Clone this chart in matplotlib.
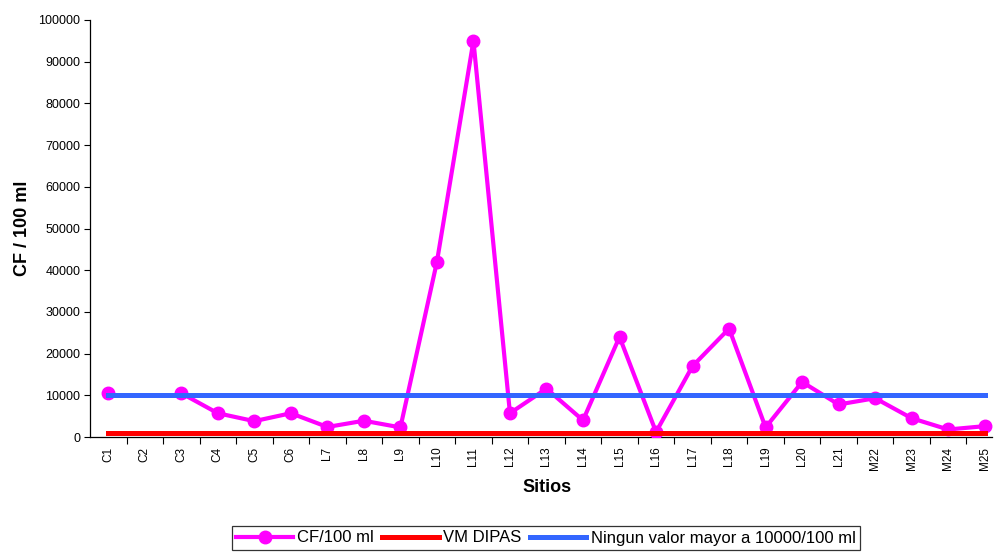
import numpy as np
import matplotlib
matplotlib.use('Agg')
import matplotlib.pyplot as plt
from matplotlib.ticker import FixedLocator, MultipleLocator

plt.rcParams['font.family'] = ['Liberation Sans', 'DejaVu Sans']

sitios = ['C1', 'C2', 'C3', 'C4', 'C5', 'C6', 'L7', 'L8', 'L9', 'L10', 'L11',
          'L12', 'L13', 'L14', 'L15', 'L16', 'L17', 'L18', 'L19', 'L20',
          'L21', 'M22', 'M23', 'M24', 'M25']
cf = [10500, np.nan, 10500, 5700, 3800, 5700, 2400, 3900, 2300, 42000, 95000,
      5700, 11600, 4000, 24000, 1200, 17000, 26000, 2300, 13200, 7800, 9300,
      4500, 1800, 2600]
vm_dipas = [1000] * len(sitios)
limite = [10000] * len(sitios)


def create_figure(outfile):
    fig_w, fig_h = 997, 552
    fig = plt.figure(figsize=(fig_w / 100, fig_h / 100), dpi=100)

    # plot area in pixels
    left, right, bottom, top = 90, 992, 437, 20
    ax = fig.add_axes([left / fig_w, (fig_h - bottom) / fig_h,
                       (right - left) / fig_w, (bottom - top) / fig_h])

    x = np.arange(len(sitios))
    ax.plot(x, cf, color='#FF00FF', lw=3.0, marker='o', ms=9,
            label='CF/100 ml', zorder=3)
    ax.plot(x, vm_dipas, color='#FF0000', lw=3.6, label='VM DIPAS', zorder=4)
    ax.plot(x, limite, color='#3366FF', lw=3.6,
            label='Ningun valor mayor a 10000/100 ml', zorder=5)

    ax.set_xlim(-0.5, 24.2)
    ax.set_ylim(0, 100000)
    ax.yaxis.set_major_locator(MultipleLocator(10000))
    ax.tick_params(axis='y', labelsize=9, length=4, width=0.8,
                   direction='out', pad=3)

    # category labels centered, tick marks between categories
    ax.set_xticks(x)
    ax.set_xticklabels(sitios, rotation=90, fontsize=8.5)
    ax.tick_params(axis='x', which='major', length=0, pad=7)
    ax.xaxis.set_minor_locator(FixedLocator(np.arange(0.5, 24.0, 1.0)))
    ax.tick_params(axis='x', which='minor', length=5, width=0.8,
                   direction='out')

    for s in ['top', 'right']:
        ax.spines[s].set_visible(False)
    for s in ['left', 'bottom']:
        ax.spines[s].set_linewidth(0.9)

    ax.set_ylabel('CF / 100 ml', fontsize=13, fontweight='bold')
    ax.yaxis.set_label_coords(31 / fig_w, (fig_h - 228) / fig_h,
                              fig.transFigure)
    ax.set_xlabel('Sitios', fontsize=13, fontweight='bold')
    ax.xaxis.set_label_coords(547 / fig_w, (fig_h - 479) / fig_h,
                              fig.transFigure)

    leg = fig.legend(loc='center', bbox_to_anchor=(546 / fig_w,
                     (fig_h - 538) / fig_h), ncol=3, fontsize=12,
                     frameon=True, fancybox=False, handlelength=3.4,
                     handletextpad=0.25, columnspacing=0.5,
                     borderpad=0.25, borderaxespad=0)
    leg.get_frame().set_edgecolor('black')
    leg.get_frame().set_linewidth(0.9)

    fig.savefig(outfile, dpi=100)


def main():
    create_figure('out.png')


if __name__ == '__main__':
    main()
